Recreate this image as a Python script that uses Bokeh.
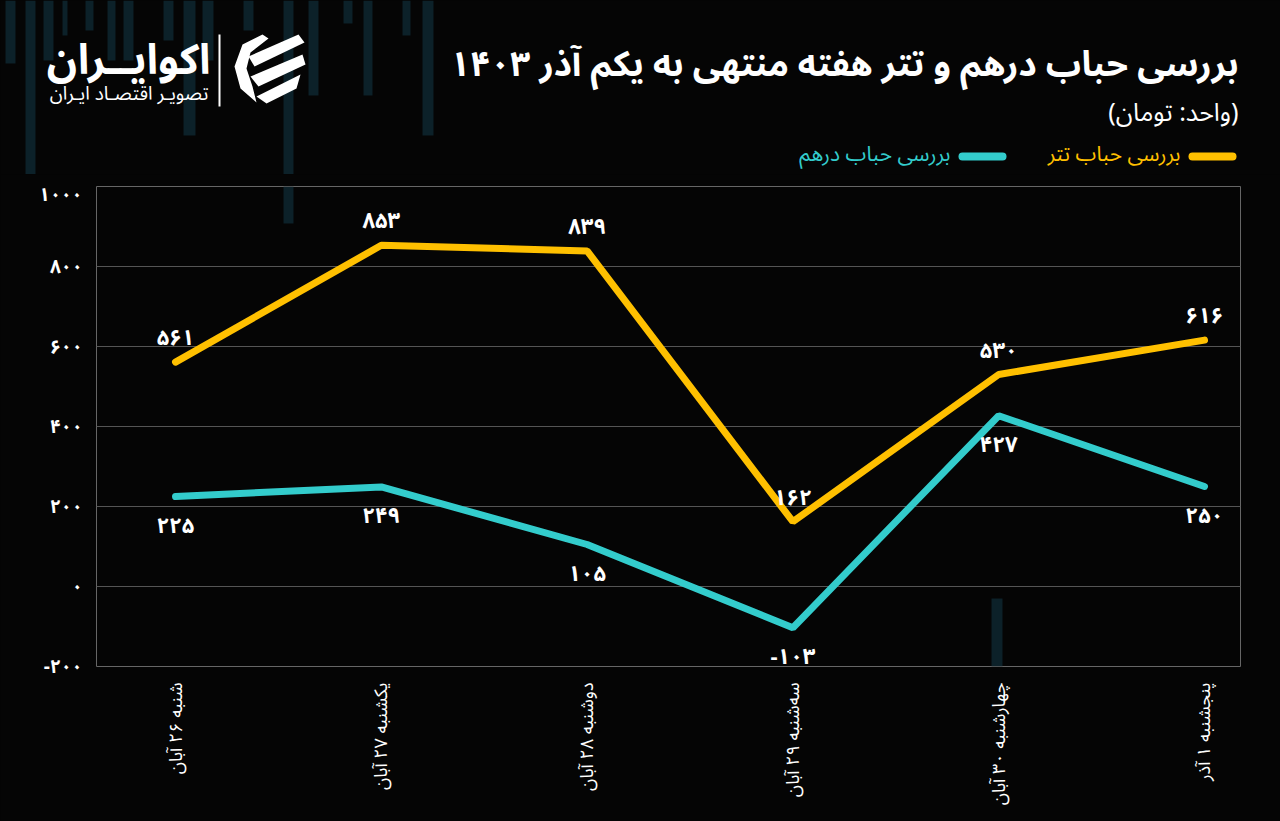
import math
from bokeh.plotting import figure
from bokeh.layouts import column
from bokeh.models import Range1d, FixedTicker, BoxAnnotation, ColumnDataSource
from bokeh.core.properties import value
from bokeh.embed import file_html
from bokeh.resources import INLINE

# ---------------- data ----------------
days = ["شنبه ۲۶ آبان", "یکشنبه ۲۷ آبان", "دوشنبه ۲۸ آبان",
        "سه‌شنبه ۲۹ آبان", "چهارشنبه ۳۰ آبان", "پنجشنبه ۱ آذر"]
tether = [561, 853, 839, 162, 530, 616]      # بررسی حباب تتر
dirham = [225, 249, 105, -103, 427, 250]     # بررسی حباب درهم
y_ticks = [-200, 0, 200, 400, 600, 800, 1000]

title_text = "بررسی حباب درهم و تتر هفته منتهی به یکم آذر ۱۴۰۳"
unit_text = "\u200f(واحد: تومان)\u200f"
legend_tether = "بررسی حباب تتر"
legend_dirham = "بررسی حباب درهم"
logo_main = "اکوایــران"
logo_sub = "تصویـر اقتصـاد ایـران"

FA = str.maketrans("0123456789", "۰۱۲۳۴۵۶۷۸۹")
def fa(v):
    return str(v).translate(FA)

# ---------------- style ----------------
BG = "#050505"
YELLOW = "#FFC000"
CYAN = "#33CCCC"
GRID = "#555555"
FONT = "'Noto Sans Arabic', 'DejaVu Sans', sans-serif"
DECOR = "#0c2129"
W, H_HEAD, H_MAIN = 1280, 174, 647

# decorative background bars (page pixel coords: x0, x1, y0, y1)
decor_bars = [
    (5, 15, 0, 63), (25, 35, 0, 223), (43, 53, 0, 60), (62, 67, 0, 35),
    (85, 93, 0, 30), (107, 115, 0, 60), (123, 133, 0, 60), (163, 173, 0, 40),
    (183, 195, 0, 135), (202, 213, 0, 60), (243, 253, 0, 30), (283, 293, 0, 223),
    (308, 318, 0, 95), (343, 352, 0, 23), (363, 372, 0, 95), (402, 410, 0, 35),
    (422, 433, 0, 135),
    (991, 1002, 598, 821),
]

# =============== header (title, legend, logo) ===============
head = figure(width=W, height=H_HEAD, output_backend="svg", toolbar_location=None,
              x_range=Range1d(0, W), y_range=Range1d(H_HEAD, 0),
              x_axis_location=None, y_axis_location=None,
              background_fill_color=BG, border_fill_color=BG, min_border=0,
              styles={"background-color": BG})
head.outline_line_color = None
head.grid.visible = False
if hasattr(head, "frame_align"):
    head.frame_align = False

hb = [b for b in decor_bars if b[2] < H_HEAD]
head.quad(left=[b[0] for b in hb], right=[b[1] for b in hb],
          top=[b[2] for b in hb], bottom=[min(b[3], H_HEAD) for b in hb],
          fill_color=DECOR, line_color=None)

# logo
head.text(x=[210], y=[60], text=[logo_main], text_align="right", text_baseline="middle",
          text_color="white", text_font=value(FONT), text_font_size="42px",
          text_font_style="bold")
head.text(x=[208], y=[93], text=[logo_sub], text_align="right", text_baseline="middle",
          text_color="white", text_font=value(FONT), text_font_size="19px")
head.quad(left=[218], right=[220], top=[34], bottom=[106], fill_color="white", line_color=None)
icon_shapes = [
    [(262, 34), (242, 44), (234, 66), (240, 88), (256, 102), (252, 86), (246, 68), (250, 52), (268, 38)],
    [(248, 56), (298, 34), (304, 42), (254, 66)],
    [(250, 76), (302, 54), (305, 64), (258, 86)],
    [(256, 96), (300, 74), (296, 88), (266, 103)],
]
head.patches(xs=[[a for a, b in s] for s in icon_shapes], ys=[[b for a, b in s] for s in icon_shapes],
             fill_color="white", line_color=None)

# title / subtitle
head.text(x=[1238], y=[64], text=[title_text], text_align="right", text_baseline="middle",
          text_color="white", text_font=value(FONT), text_font_size="35px",
          text_font_style="bold")
head.text(x=[1238], y=[112], text=[unit_text], text_align="right", text_baseline="middle",
          text_color="white", text_font=value(FONT), text_font_size="25px")

# legend
head.segment(x0=[1192, 962], y0=[156, 156], x1=[1232, 1002], y1=[156, 156],
             line_color=[YELLOW, CYAN], line_width=8, line_cap="round")
head.text(x=[1180, 950], y=[153, 153], text=[legend_tether, legend_dirham],
          text_align="right", text_baseline="middle", text_color=[YELLOW, CYAN],
          text_font=value(FONT), text_font_size="21px")

# =============== main chart ===============
idx = list(range(len(days)))

p = figure(width=W, height=H_MAIN, output_backend="svg", toolbar_location=None,
           x_range=Range1d(-0.384, 5.175), y_range=Range1d(-200, 1000),
           background_fill_color=BG, border_fill_color=BG,
           styles={"background-color": BG})
p.min_border_left = 96
p.min_border_right = 40
p.min_border_top = 186 - H_HEAD
p.min_border_bottom = 155
p.outline_line_color = "#666666"
p.outline_line_width = 1
if hasattr(p, "frame_align"):
    p.frame_align = False

# frame position on the page (for decorative screen-unit boxes)
FL, FB = 96, 666
for x0, x1, y0, y1 in decor_bars:
    if y1 > 186:
        p.add_layout(BoxAnnotation(left=x0 - FL, right=x1 - FL, top=FB - max(y0, 186),
                                   bottom=FB - min(y1, FB),
                                   left_units="screen", right_units="screen",
                                   top_units="screen", bottom_units="screen",
                                   fill_color=DECOR, fill_alpha=1.0, line_color=None,
                                   level="image", editable=False))

# axes
p.xaxis.ticker = FixedTicker(ticks=idx)
p.xaxis.major_label_overrides = {i: d for i, d in zip(idx, days)}
p.xaxis.major_label_orientation = math.pi / 2
p.xaxis.major_label_text_color = "white"
p.xaxis.major_label_text_font = FONT
p.xaxis.major_label_text_font_size = "18px"
p.xaxis.major_label_standoff = 10
p.xaxis.axis_line_color = None
p.xaxis.major_tick_line_color = None
p.xaxis.minor_tick_line_color = None

p.yaxis.ticker = FixedTicker(ticks=y_ticks)
p.yaxis.major_label_overrides = {t: fa(t) for t in y_ticks}
p.yaxis.major_label_text_color = "white"
p.yaxis.major_label_text_font = FONT
p.yaxis.major_label_text_font_size = "19px"
p.yaxis.major_label_text_font_style = "bold"
p.yaxis.major_label_standoff = 8
p.yaxis.axis_line_color = None
p.yaxis.major_tick_line_color = None
p.yaxis.minor_tick_line_color = None

p.xgrid.visible = False
p.ygrid.ticker = FixedTicker(ticks=y_ticks)
p.ygrid.grid_line_color = GRID
p.ygrid.grid_line_width = 1

# series
src = ColumnDataSource(dict(x=idx, tether=tether, dirham=dirham,
                            tl=[fa(v) for v in tether], dl=[fa(v) for v in dirham]))
p.line("x", "tether", source=src, line_color=YELLOW, line_width=7, line_cap="round")
p.line("x", "dirham", source=src, line_color=CYAN, line_width=7, line_cap="round")

p.text("x", "tether", text="tl", source=src, y_offset=-24, text_align="center",
       text_baseline="middle", text_color="white", text_font=value(FONT),
       text_font_size="22px", text_font_style="bold")
p.text("x", "dirham", text="dl", source=src, y_offset=29, text_align="center",
       text_baseline="middle", text_color="white", text_font=value(FONT),
       text_font_size="22px", text_font_style="bold")

layout = column(head, p, spacing=0, styles={"background-color": BG})
open("out.html", "w").write(file_html(layout, INLINE))
